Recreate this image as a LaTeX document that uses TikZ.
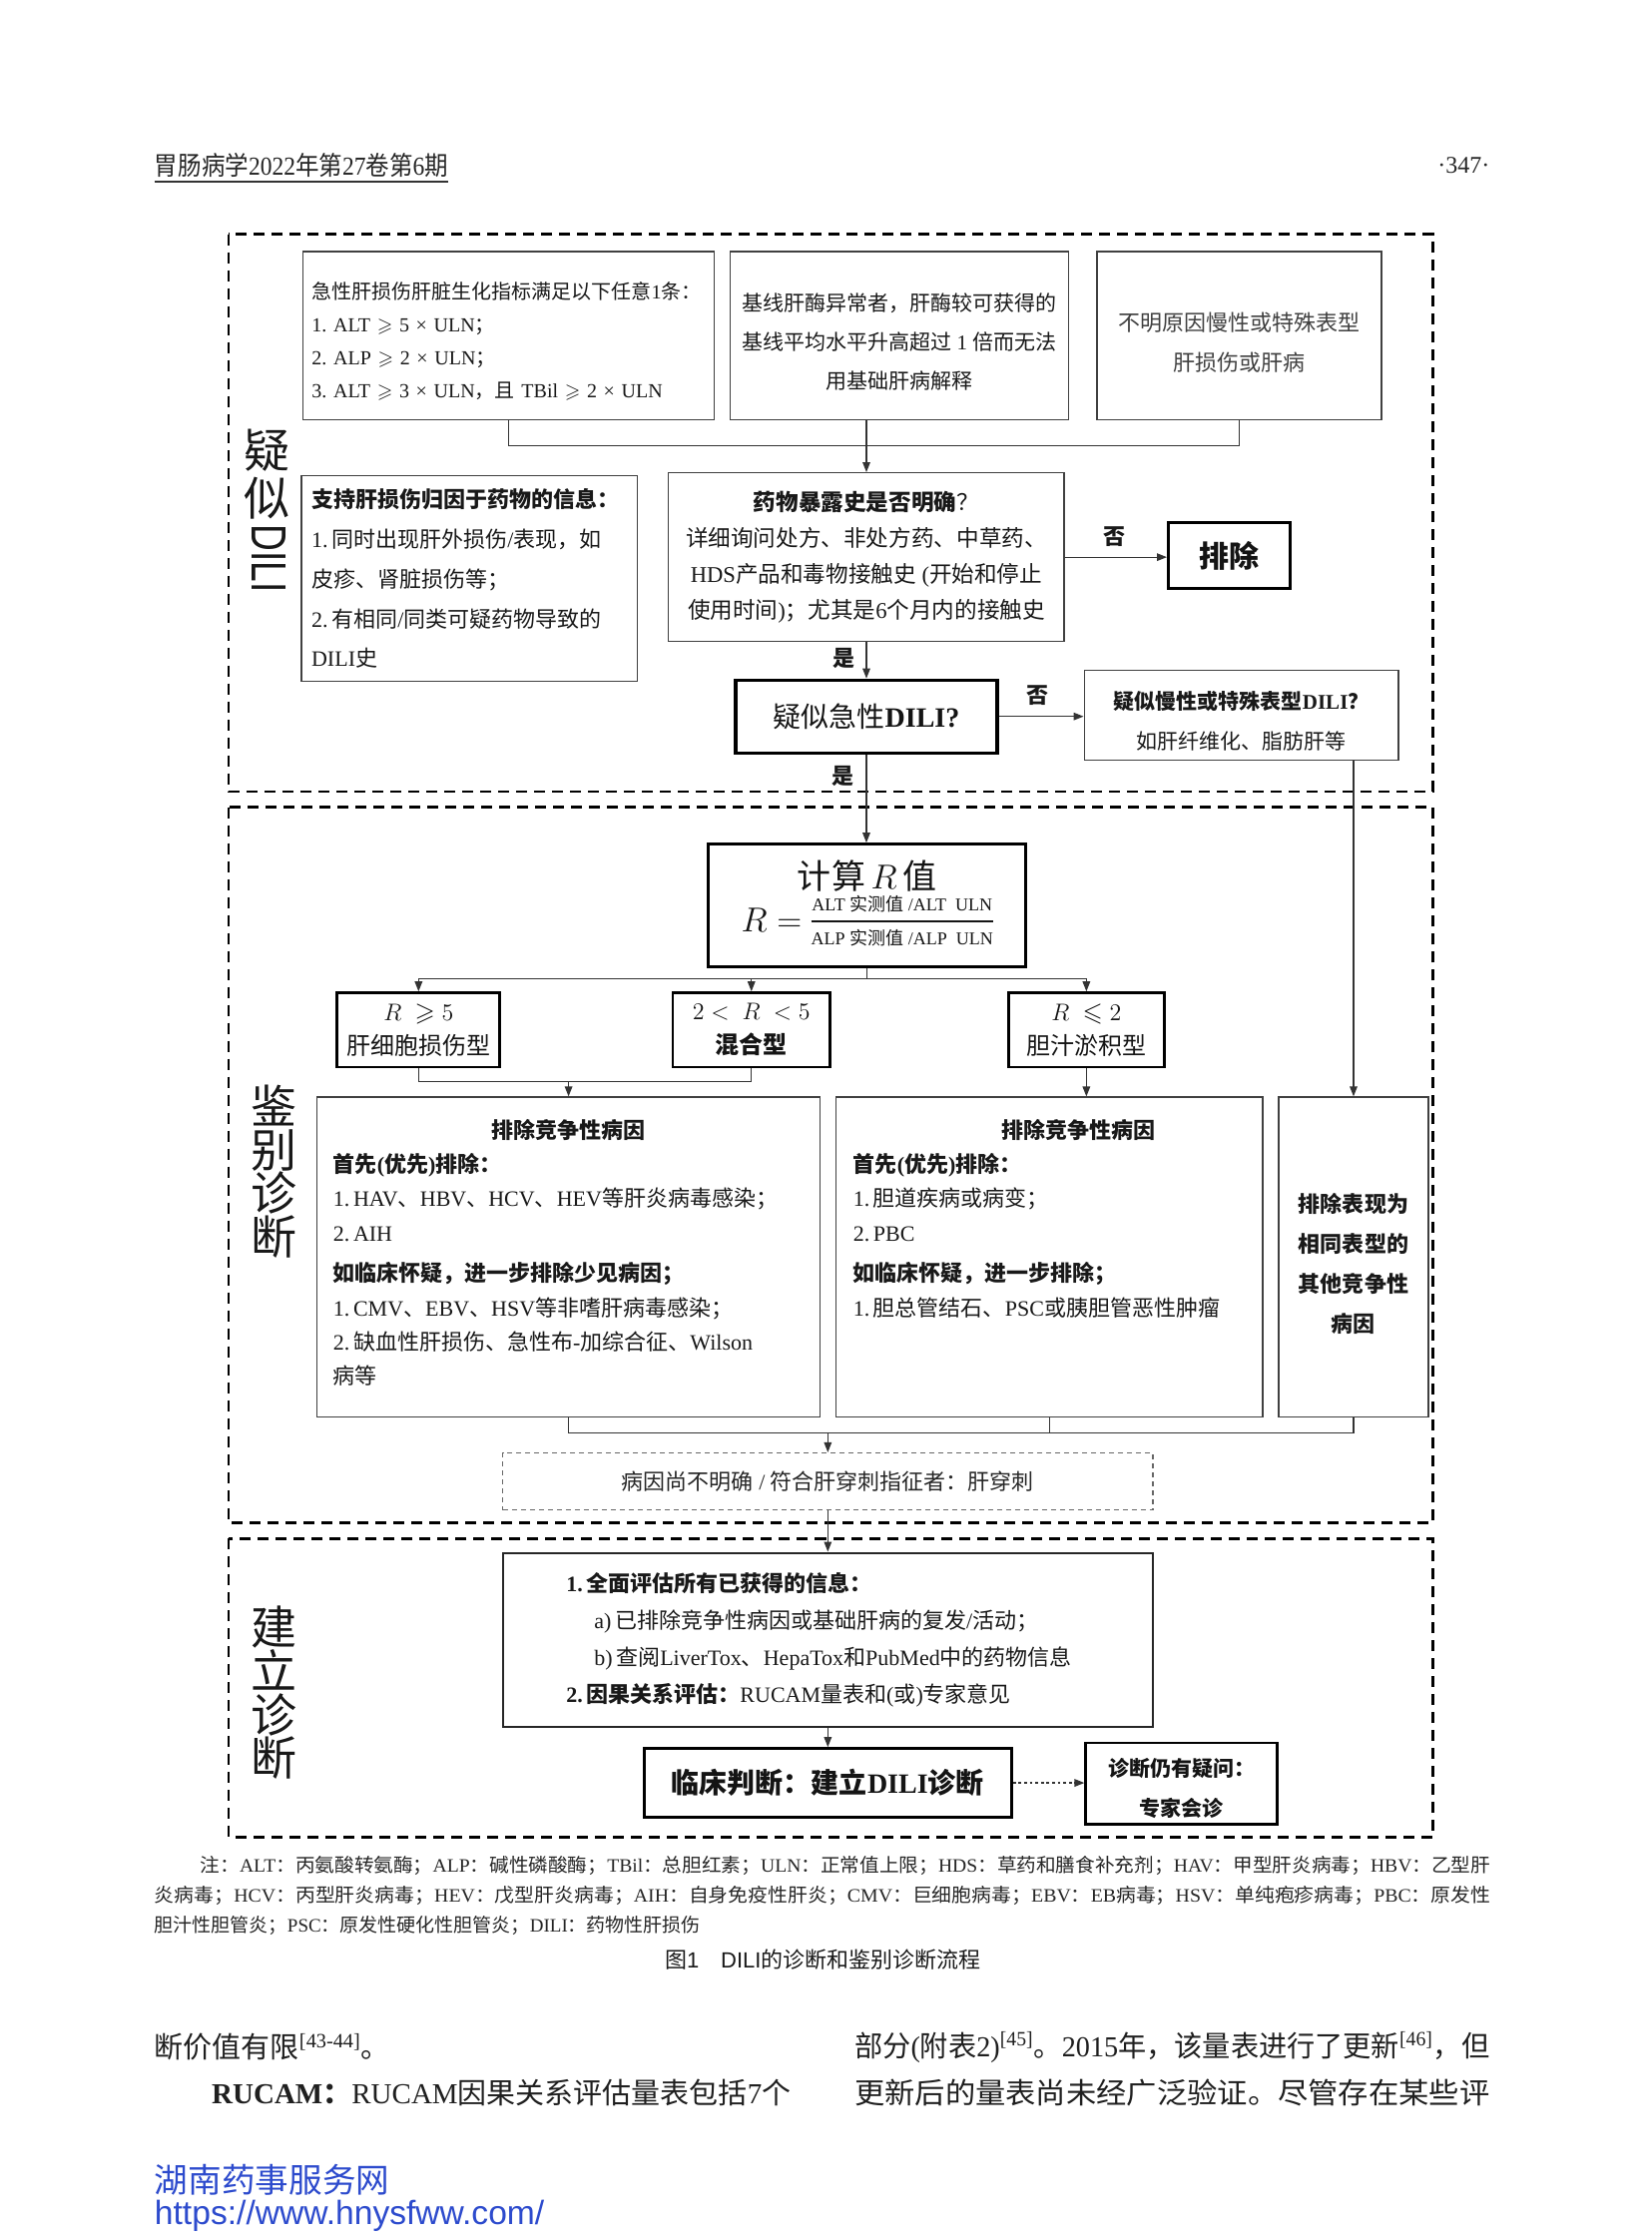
\documentclass[tikz,border=0pt]{standalone}
\usepackage{fontspec}
\usepackage{amsmath,amssymb}
\usepackage{graphicx}
\usetikzlibrary{arrows.meta}
\setmainfont{Liberation Serif}
\newfontfamily\cjkfam{Noto Sans CJK SC}
\newfontfamily\serlat{Liberation Serif}
\newfontfamily\sanlat{Liberation Sans}
\let\curlat\serlat
\newcommand\latfam{\curlat}
\XeTeXinterchartokenstate=1
\newXeTeXintercharclass\CJKcls
\newcount\cjkc
\newcommand\setcjkrange[2]{\cjkc=#1\relax\loop\XeTeXcharclass\cjkc=\CJKcls\relax\ifnum\cjkc<#2\relax\advance\cjkc by 1\relax\repeat}
\setcjkrange{"3000}{"303F}
\setcjkrange{"4E00}{"9FFF}
\setcjkrange{"FF00}{"FFEF}
\XeTeXinterchartoks 0 \CJKcls = {\cjkfam}
\XeTeXinterchartoks 4095 \CJKcls = {\cjkfam}
\XeTeXinterchartoks \CJKcls 0 = {\latfam}
\XeTeXinterchartoks \CJKcls 4095 = {\latfam}
\frenchspacing
\definecolor{wm}{RGB}{45,75,205}
\newcommand\bxn[7]{\node[#1,minimum width={(#5-#3)*0.7154pt},minimum height={(#6-#4)*0.7154pt}] (#2) at ({(#3+#5)/2},{(#4+#6)/2}) {#7};}
\newcommand\up[1]{\rule{0pt}{#1}}
\begin{document}
\begin{tikzpicture}[x=0.7154pt,y=-0.7154pt,
  thinbox/.style={draw=black!75,line width=0.7pt,inner sep=0pt,align=center,text=black!90},
  midbox/.style={draw=black!85,line width=1.1pt,inner sep=0pt,align=center,text=black!90},
  thickbox/.style={draw=black,line width=1.6pt,inner sep=0pt,align=center,text=black!92},
  dashbox/.style={draw=black!60,line width=0.6pt,dash pattern=on 2.5pt off 2pt,inner sep=0pt,align=center,text=black!85},
  conn/.style={draw=black!80,line width=0.6pt},
  arr/.style={conn,-{Triangle[length=5pt,width=3.8pt]}},
  dotarr/.style={draw=black!80,line width=0.7pt,dash pattern=on 1.4pt off 1.4pt,-{Triangle[length=5pt,width=3.8pt]}},
  secframe/.style={draw=black,line width=1.3pt,dash pattern=on 5.5pt off 3.5pt},
  seclab/.style={inner sep=0pt,align=center,text=black!90},
  lbl/.style={inner sep=0pt,font=\fontsize{11}{13}\selectfont\bfseries,text=black!90},
  fn/.style={inner sep=0pt,anchor=west,font=\fontsize{9.5}{11}\selectfont,text=black!85},
  body/.style={inner sep=0pt,anchor=west,font=\fontsize{14.5}{17}\selectfont,text=black!88}]
\useasboundingbox (0,0) rectangle (1156,1568);
\fill[white] (0,0) rectangle (1156,1568);

% header
\node[inner sep=0pt,anchor=west,font=\fontsize{13}{15}\selectfont,text=black!85] (hdr) at (108,116) {\resizebox{147pt}{\height}{胃肠病学2022年第27卷第6期}};
\draw[line width=0.9pt,black!80] (108,127) -- (314,127);
\node[inner sep=0pt,anchor=east,font=\fontsize{12}{14}\selectfont,text=black!85] (pg) at (1043,116) {·347·};

% section frames
\draw[secframe] (160,164) rectangle (1003,554);
\draw[secframe] (160,565) rectangle (1003,1066);
\draw[secframe] (160,1077) rectangle (1003,1286);

% section labels
\node[seclab,font=\fontsize{23}{24.3}\selectfont] (lab1) at (187,332) {疑\\似};
\node[seclab] (lab1b) at (188,391) {\rotatebox{-90}{\resizebox{34pt}{17pt}{\sanlat DILI}}};
\node[seclab,font=\fontsize{23}{21.8}\selectfont] (lab2) at (192,820) {鉴\\别\\诊\\断};
\node[seclab,font=\fontsize{23}{21.8}\selectfont] (lab3) at (192,1185) {建\\立\\诊\\断};

% section 1
\bxn{thinbox,text width=197pt,align=left,font=\fontsize{10}{16.4}\selectfont}{A}{212}{176}{500}{294}{\up{14pt}急性肝损伤肝脏生化指标满足以下任意1条：\\1.\ ALT $\geqslant$ 5 × ULN；\\2.\ ALP $\geqslant$ 2 × ULN；\\3.\ ALT $\geqslant$ 3 × ULN，且 TBil $\geqslant$ 2 × ULN}
\bxn{thinbox,font=\fontsize{10.5}{19.7}\selectfont}{B}{511}{176}{748}{294}{\up{15pt}基线肝酶异常者，肝酶较可获得的\\基线平均水平升高超过 1 倍而无法\\用基础肝病解释}
\bxn{thinbox,font=\fontsize{11}{20}\selectfont,text=black!75}{C}{768}{176}{967}{294}{\up{16.5pt}不明原因慢性或特殊表型\\肝损伤或肝病}
\bxn{thinbox,font=\fontsize{11.3}{18.1}\selectfont}{D}{468}{331}{745}{449}{{\bfseries 药物暴露史是否明确}？\\详细询问处方、非处方药、中草药、\\HDS产品和毒物接触史 (开始和停止\\使用时间)；尤其是6个月内的接触史}
\bxn{thinbox,text width=158pt,align=left,font=\fontsize{11}{19.9}\selectfont}{E}{211}{333}{446}{477}{{\bfseries 支持肝损伤归因于药物的信息：}\\1.\,同时出现肝外损伤/表现，如\\皮疹、肾脏损伤等；\\2.\,有相同/同类可疑药物导致的\\DILI史}
\bxn{thickbox,font=\fontsize{15}{18}\selectfont\bfseries}{X}{818}{366}{903}{412}{排除}
\bxn{thickbox,font=\fontsize{14}{17}\selectfont}{F}{515}{476}{698}{527}{疑似急性{\bfseries DILI?}}
\bxn{thinbox,font=\fontsize{10.5}{20}\selectfont}{G}{759}{469}{979}{532}{\up{15pt}{\bfseries 疑似慢性或特殊表型DILI？}\\如肝纤维化、脂肪肝等}

% section 2
\bxn{thickbox}{H}{496}{591}{718}{677}{{\fontsize{17}{20}\selectfont 计算\,$R$\,值}\\[1pt]{\fontsize{16}{18}\selectfont $R=\vcenter{\hbox{\fontsize{9}{10}\selectfont\setlength\arrayrulewidth{0.8pt}\setlength\tabcolsep{0pt}\begin{tabular}{c}ALT 实测值 /ALT\enspace ULN\\[1.5pt]\hline\rule{0pt}{11.5pt}ALP 实测值 /ALP\enspace ULN\end{tabular}}}$}}
\bxn{thickbox,line width=1.4pt,font=\fontsize{12}{17}\selectfont}{I1}{236}{695}{350}{747}{{\fontsize{13}{15}\selectfont $R\ \geqslant 5$}\\肝细胞损伤型}
\bxn{thickbox,line width=1.4pt,font=\fontsize{12}{17}\selectfont}{I2}{471}{695}{581}{747}{{\fontsize{13}{15}\selectfont $2<\ R\ <5$}\\{\bfseries 混合型}}
\bxn{thickbox,line width=1.4pt,font=\fontsize{12}{17}\selectfont}{I3}{706}{695}{815}{747}{{\fontsize{13}{15}\selectfont $R\ \leqslant 2$}\\胆汁淤积型}
\bxn{thinbox}{J1}{222}{768}{574}{992}{}
\node[anchor=north west,inner sep=0pt,text width=240pt,align=left,font=\fontsize{11}{17.2}\selectfont,text=black!90] (J1t) at (233,783) {\makebox[236pt][c]{\bfseries 排除竞争性病因}\\{\bfseries 首先(优先)排除：}\\1.\,HAV、HBV、HCV、HEV等肝炎病毒感染；\\2.\,AIH\\[3pt]{\bfseries 如临床怀疑，进一步排除少见病因；}\\1.\,CMV、EBV、HSV等非嗜肝病毒感染；\\2.\,缺血性肝损伤、急性布-加综合征、Wilson\\病等};
\bxn{thinbox}{J2}{585}{768}{884}{992}{}
\node[anchor=north west,inner sep=0pt,text width=230pt,align=left,font=\fontsize{11}{17.2}\selectfont,text=black!90] (J2t) at (597,783) {\makebox[226pt][c]{\bfseries 排除竞争性病因}\\{\bfseries 首先(优先)排除：}\\1.\,胆道疾病或病变；\\2.\,PBC\\[3pt]{\bfseries 如临床怀疑，进一步排除；}\\1.\,胆总管结石、PSC或胰胆管恶性肿瘤};
\bxn{thinbox,font=\fontsize{11}{20}\selectfont\bfseries}{K}{895}{768}{1000}{992}{\up{16.5pt}排除表现为\\相同表型的\\其他竞争性\\病因}
\bxn{dashbox,font=\fontsize{11}{13}\selectfont}{L}{352}{1017}{807}{1057}{病因尚不明确 / 符合肝穿刺指征者：肝穿刺}

% section 3
\bxn{midbox,text width=262pt,align=left,font=\fontsize{11}{18.4}\selectfont}{M}{352}{1087}{807}{1209}{{\bfseries 1.\,全面评估所有已获得的信息：}\\\hspace*{14pt}a)\,已排除竞争性病因或基础肝病的复发/活动；\\\hspace*{14pt}b)\,查阅LiverTox、HepaTox和PubMed中的药物信息\\{\bfseries 2.\,因果关系评估：}RUCAM量表和(或)专家意见}
\bxn{thickbox,font=\fontsize{14}{17}\selectfont\bfseries}{N}{451}{1224}{708}{1272}{临床判断：建立DILI诊断}
\bxn{thickbox,line width=1.3pt,font=\fontsize{10.5}{20}\selectfont\bfseries}{O}{760}{1220}{894}{1277}{\up{13.5pt}诊断仍有疑问：\\专家会诊}

% connectors
\coordinate (r1) at (0,312);
\draw[conn] (A.south) -- (A.south |- r1) -- (C.south |- r1) -- (C.south);
\draw[arr] (D.north |- B.south) -- (D.north);
\draw[arr] (D.east) -- (D.east -| X.west);
\draw[arr] (D.south) -- (F.north);
\draw[arr] (F.east) -- (F.east -| G.west);
\draw[arr] (F.south) -- (F.south |- H.north);
\draw[arr] (G.south -| K.north) -- (K.north);
\coordinate (r2) at (0,685);
\draw[conn] (H.south) -- (H.south |- r2);
\draw[arr] (H.south |- r2) -| (I1.north);
\draw[arr] (H.south |- r2) -| (I3.north);
\draw[arr] (I2.north |- r2) -- (I2.north);
\coordinate (r3) at (0,757);
\draw[conn] (I1.south) |- (J1.north |- r3) -| (I2.south);
\draw[arr] (J1.north |- r3) -- (J1.north);
\draw[arr] (I3.south) -- (I3.south |- J2.north);
\coordinate (r4) at (0,1003);
\draw[conn] (J1.south) |- (K.south |- r4) -- (K.south);
\draw[conn] (J2.south) -- (J2.south |- r4);
\draw[arr] (L.north |- r4) -- (L.north);
\draw[arr] (L.south) -- (M.north);
\draw[arr] (M.south) -- (N.north);
\draw[dotarr] (N.east) -- (N.east -| O.west);

% labels
\node[lbl] (no1) at (780,376) {否};
\node[lbl] (yes1) at (591,461) {是};
\node[lbl] (no2) at (726,487) {否};
\node[lbl] (yes2) at (590,543) {是};

% footnote
\node[fn] (fn1) at (140,1306) {\resizebox{646pt}{\height}{注：ALT：丙氨酸转氨酶；ALP：碱性磷酸酶；TBil：总胆红素；ULN：正常值上限；HDS：草药和膳食补充剂；HAV：甲型肝炎病毒；HBV：乙型肝}};
\node[fn] (fn2) at (108,1327) {\resizebox{669pt}{\height}{炎病毒；HCV：丙型肝炎病毒；HEV：戊型肝炎病毒；AIH：自身免疫性肝炎；CMV：巨细胞病毒；EBV：EB病毒；HSV：单纯疱疹病毒；PBC：原发性}};
\node[fn] (fn3) at (108,1348) {胆汁性胆管炎；PSC：原发性硬化性胆管炎；DILI：药物性肝损伤};
\node[inner sep=0pt,font=\fontsize{11}{13}\selectfont,text=black!90] (cap) at (576,1372) {\let\curlat\sanlat 图1\quad DILI的诊断和鉴别诊断流程};

% body text
\node[body] (bt1) at (108,1433) {断价值有限\textsuperscript{[43-44]}。};
\node[body] (bt2) at (148,1465) {\resizebox{290pt}{\height}{{\bfseries RUCAM：}RUCAM因果关系评估量表包括7个}};
\node[body] (bt3) at (598,1433) {\resizebox{318pt}{\height}{部分(附表2)\textsuperscript{[45]}。2015年，该量表进行了更新\textsuperscript{[46]}，但}};
\node[body] (bt4) at (598,1465) {\resizebox{318pt}{\height}{更新后的量表尚未经广泛验证。尽管存在某些评}};

% watermark
\node[inner sep=0pt,anchor=west,font=\fontsize{16.8}{19}\selectfont,text=wm] (wm1) at (108,1526) {湖南药事服务网};
\node[inner sep=0pt,anchor=west,font=\fontsize{16.8}{19}\selectfont\sanlat,text=wm] (wm2) at (108,1551) {https://www.hnysfww.com/};
\end{tikzpicture}
\end{document}
